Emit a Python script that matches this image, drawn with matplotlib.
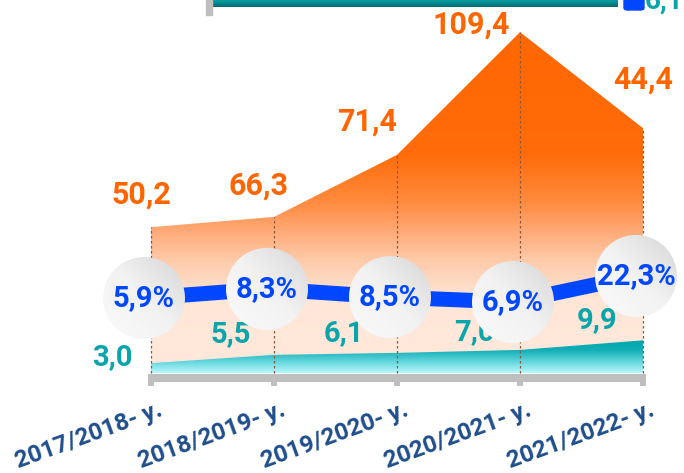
import numpy as np
import matplotlib
matplotlib.use("Agg")
import matplotlib.pyplot as plt
import matplotlib.transforms as mtransforms
from matplotlib.colors import LinearSegmentedColormap
from matplotlib.patches import Ellipse, Rectangle, FancyBboxPatch

plt.rcParams['font.family'] = ['Roboto', 'DejaVu Sans']
plt.rcParams['font.weight'] = 'bold'

# ---- data ----
years = ['2017/2018- y.', '2018/2019- y.', '2019/2020- y.', '2020/2021- y.', '2021/2022- y.']
total_labels = [50.2, 66.3, 71.4, 109.4, 44.4]      # orange labels
total_level = [44.2, 47.3, 66.1, 103.3, 74.2]       # drawn height of orange area
small_values = [3.0, 5.5, 6.1, 7.0, 9.9]            # teal area + labels
rate_pct = [5.9, 8.3, 8.5, 6.9, 22.3]               # circle labels
rate_level = [22.7, 25.5, 23.0, 21.5, 29.4]         # drawn height of blue line

# ---- styles ----
ORANGE = '#FF6600'
TEAL = '#0AA5AA'
BLUE = '#0047FF'
NAVY = '#1F4E8C'
GREY = '#BFBFBF'

# label offsets in pixels (x, y) from the data point
total_off = [(-10, 33), (-16, 31), (-30, 33), (-49, 8), (0, 49)]
small_off = [(-39, 6), (-43, 21), (-53, 20), (-46, 18), (-46, 20)]
circle_dx = -0.057
circle_r = 41  # px


def fmt(v):
    return f"{v:.1f}".replace('.', ',')


fig = plt.figure(figsize=(6.84, 4.73), dpi=100)
ax = fig.add_axes([0, 0, 1, 1])
ax.set_xlim(-151 / 123, (684 - 151) / 123)
ax.set_ylim(-100 / 3.3, 373 / 3.3)
ax.patch.set_visible(False)
for s in ['top', 'left', 'right']:
    ax.spines[s].set_visible(False)
ax.set_yticks([])

x = np.arange(len(years))

# orange area with vertical gradient
orange_cmap = LinearSegmentedColormap.from_list('og', [
    (0.0, '#FFE9DC'), (22 / 110, '#FFE6D7'), (34 / 110, '#FDCBAA'),
    (44 / 110, '#FFA570'), (52 / 110, '#FF8A3D'), (66 / 110, '#FF6C0A'),
    (1.0, ORANGE)])
poly = ax.fill_between(x, 0, total_level, facecolor='none', edgecolor='none')
grad = np.linspace(0, 1, 256).reshape(-1, 1)
im = ax.imshow(grad, cmap=orange_cmap, origin='lower', aspect='auto',
               extent=[x[0], x[-1], 0, 110], zorder=1)
im.set_clip_path(poly.get_paths()[0], ax.transData)

# teal area
teal_cmap = LinearSegmentedColormap.from_list('tg', [
    (0.0, '#B8F8FC'), (0.35, '#62D5DC'), (0.7, '#12AEB6'), (1.0, '#00A6AE')])
poly2 = ax.fill_between(x, 0, small_values, facecolor='none', edgecolor='none')
im2 = ax.imshow(grad, cmap=teal_cmap, origin='lower', aspect='auto',
                extent=[x[0], x[-1], 0, 10], zorder=2)
im2.set_clip_path(poly2.get_paths()[0], ax.transData)

# dotted verticals
ax.vlines(x, 0, total_level, colors='#8B5A3C', linestyles=(0, (2, 2)),
          linewidth=0.9, zorder=3)

# axis bar
ax.spines['bottom'].set_position(('data', -1.4))
ax.spines['bottom'].set_bounds(-0.024, 4.024)
ax.spines['bottom'].set_linewidth(5.8)
ax.spines['bottom'].set_color(GREY)
ax.spines['bottom'].set_capstyle('butt')
ax.set_xticks(x, labels=years)
ax.tick_params(axis='x', length=5.8, width=4.3, color=GREY, direction='out',
               pad=9, labelsize=17.5, labelcolor=NAVY)
offset = mtransforms.ScaledTranslation(7 / 100, 0, fig.dpi_scale_trans)
for lab in ax.get_xticklabels():
    lab.set_rotation(20)
    lab.set_ha('right')
    lab.set_va('top')
    lab.set_rotation_mode('anchor')
    lab.set_fontweight('bold')
    lab.set_transform(lab.get_transform() + offset)

# teal labels
for xi, v, off in zip(x, small_values, small_off):
    ax.annotate(fmt(v), (xi, v), xytext=off, textcoords='offset pixels',
                ha='center', va='center', color=TEAL, fontsize=21,
                fontweight='bold', zorder=4)

# orange labels
for xi, v, lv, off in zip(x, total_labels, total_level, total_off):
    ax.annotate(fmt(v), (xi, lv), xytext=off, textcoords='offset pixels',
                ha='center', va='center', color=ORANGE, fontsize=22,
                fontweight='bold', zorder=4)

# blue line
cx = x + circle_dx
ax.plot(cx, rate_level, color=BLUE, linewidth=10.8, solid_capstyle='round', zorder=5)

# circles with light grey gradient
p0 = ax.transData.transform((0, 0))
p1 = ax.transData.transform((1, 1))
sx, sy = p1[0] - p0[0], p1[1] - p0[1]
w, h = 2 * circle_r / sx, 2 * circle_r / sy
circle_cmap = LinearSegmentedColormap.from_list('cg', ['#FAFAFA', '#F2F2F2', '#D6D6D6'])
gx, gy = np.meshgrid(np.linspace(0, 1, 64), np.linspace(0, 1, 64))
cgrad = (gx + gy) / 2
for xc, yc, p in zip(cx, rate_level, rate_pct):
    e = Ellipse((xc, yc), w, h, facecolor='none', edgecolor='none', zorder=6)
    ax.add_patch(e)
    ci = ax.imshow(cgrad, cmap=circle_cmap, origin='lower', aspect='auto',
                   extent=[xc - w / 2, xc + w / 2, yc - h / 2, yc + h / 2], zorder=6)
    ci.set_clip_path(e)
    ax.text(xc, yc, fmt(p) + '%', ha='center', va='center', color=BLUE,
            fontsize=21, fontweight='bold', zorder=7)

ax.set_xlim(-151 / 123, (684 - 151) / 123)
ax.set_ylim(-100 / 3.3, 373 / 3.3)

# cropped remains of the element above the chart
fig.add_artist(Rectangle((206 / 684, 1 - 15 / 473), 6 / 684, 15 / 473,
                         transform=fig.transFigure, color=GREY))
bar_ax = fig.add_axes([212 / 684, 1 - 7 / 473, 406 / 684, 7 / 473])
bar_ax.imshow(grad, cmap=LinearSegmentedColormap.from_list('b', ['#006B70', '#0AA0A5']),
              origin='lower', aspect='auto')
bar_ax.axis('off')
fig.add_artist(FancyBboxPatch((624 / 684, 1 - 10 / 473), 20 / 684, 12 / 473,
                              boxstyle='round,pad=0,rounding_size=0.005',
                              transform=fig.transFigure, color=BLUE))
fig.text(664 / 684, 1 - 9 / 473, '6,1', ha='center', va='baseline', color=TEAL,
         fontsize=20, fontweight='bold')

fig.savefig('out.png', dpi=100)
